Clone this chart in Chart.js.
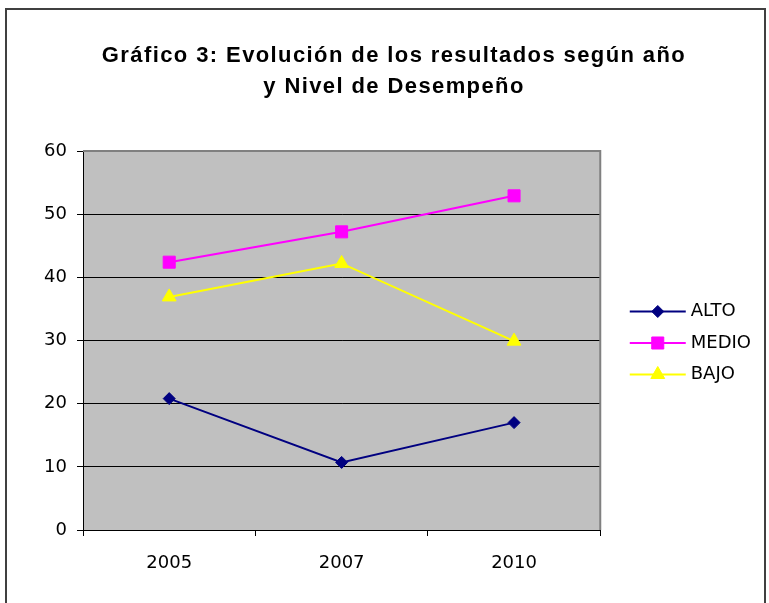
<!DOCTYPE html>
<html>
<head>
<meta charset="utf-8">
<script src="https://cdn.jsdelivr.net/npm/chart.js@4"></script>
<style>
  html, body { margin: 0; padding: 0; background: #fff; }
  #wrap { width: 769px; height: 603px; }
</style>
</head>
<body>
<div id="wrap"><canvas id="chart" width="769" height="603"></canvas></div>
<script>
const years = ['2005', '2007', '2010'];
const alto = [20.8, 10.7, 17.0];
const medio = [42.4, 47.2, 52.9];
const bajo = [36.9, 42.2, 29.9];
const seriesNames = ['ALTO', 'MEDIO', 'BAJO'];
const titleLines = ['Gráfico 3: Evolución de los resultados según año', 'y Nivel de Desempeño'];

// Excel-ish frame, plot background, title and legend line+marker
const excelLook = {
  id: 'excelLook',
  beforeDraw(chart) {
    const {ctx, chartArea: a} = chart;
    ctx.save();
    ctx.fillStyle = '#fff';
    ctx.fillRect(0, 0, chart.width, chart.height);
    ctx.fillStyle = '#c0c0c0';
    ctx.fillRect(a.left, a.top, a.right - a.left, a.bottom - a.top);
    ctx.restore();
  },
  afterDraw(chart) {
    const {ctx, chartArea: a} = chart;
    ctx.save();
    // gray top/right edges of the plot
    ctx.strokeStyle = '#808080';
    ctx.lineWidth = 2;
    ctx.beginPath();
    ctx.moveTo(a.left, a.top);
    ctx.lineTo(a.right, a.top);
    ctx.lineTo(a.right, a.bottom);
    ctx.stroke();
    // outer frame
    ctx.strokeStyle = '#404040';
    ctx.lineWidth = 2;
    ctx.strokeRect(6, 9, 759, 600);
    // title
    ctx.fillStyle = '#000';
    ctx.font = 'bold 22px "Liberation Sans", Arial, sans-serif';
    ctx.textAlign = 'center';
    ctx.textBaseline = 'alphabetic';
    ctx.letterSpacing = '1.4px';
    ctx.fillText(titleLines[0], 394, 62);
    ctx.fillText(titleLines[1], 394, 93);
    ctx.letterSpacing = '0px';
    // legend line + marker
    const boxes = chart.legend.legendHitBoxes || [];
    boxes.forEach((b, i) => {
      const ds = chart.data.datasets[i];
      const y = b.top + b.height / 2;
      const x0 = b.left + 16;
      ctx.strokeStyle = ds.borderColor;
      ctx.lineWidth = ds.borderWidth;
      ctx.beginPath();
      ctx.moveTo(x0, y);
      ctx.lineTo(x0 + 56, y);
      ctx.stroke();
      ctx.fillStyle = ds.pointBackgroundColor;
      ctx.strokeStyle = ds.pointBorderColor;
      ctx.lineWidth = 1;
      Chart.helpers.drawPoint(ctx, {
        pointStyle: ds.pointStyle, radius: ds.pointRadius, borderWidth: 1, rotation: 0
      }, x0 + 28, y);
    });
    ctx.restore();
  }
};

const colors = ['#000080', '#ff00ff', '#ffff00'];
const styles = ['rectRot', 'rect', 'triangle'];
const radii = [6, 8.5, 8];
const values = [alto, medio, bajo];

const datasets = seriesNames.map((name, i) => ({
  label: name,
  data: values[i],
  borderColor: colors[i],
  backgroundColor: colors[i],
  borderWidth: 2,
  pointStyle: styles[i],
  pointRadius: radii[i],
  pointHoverRadius: radii[i],
  pointBackgroundColor: colors[i],
  pointBorderColor: colors[i],
  pointBorderWidth: 1,
  tension: 0
}));

new Chart(document.getElementById('chart'), {
  type: 'line',
  data: { labels: years, datasets: datasets },
  options: {
    responsive: false,
    animation: false,
    layout: { padding: { top: 151, left: 0, right: 8, bottom: 0 } },
    plugins: {
      title: { display: false },
      tooltip: { enabled: false },
      legend: {
        position: 'right',
        fullSize: false,
        align: 'center',
        // empty title only nudges the items down a little
        title: { display: true, text: ' ', padding: 0, font: { size: 4, lineHeight: 1.25 } },
        labels: {
          boxWidth: 68,
          boxHeight: 2,
          padding: 13.5,
          color: '#000',
          font: { family: '"DejaVu Sans", Verdana, sans-serif', size: 18 },
          generateLabels(chart) {
            const items = Chart.defaults.plugins.legend.labels.generateLabels(chart);
            return items.map(it => Object.assign(it, {
              fillStyle: 'rgba(0,0,0,0)', strokeStyle: 'rgba(0,0,0,0)', lineWidth: 0
            }));
          }
        }
      }
    },
    scales: {
      x: {
        offset: true,
        afterFit(s) { s.height = 73; },
        grid: { offset: true, drawOnChartArea: false, color: '#000', tickLength: 6 },
        border: { color: '#000', width: 1 },
        ticks: {
          color: '#000',
          padding: 17,
          font: { family: '"DejaVu Sans", Verdana, sans-serif', size: 18 }
        }
      },
      y: {
        min: 0,
        max: 60,
        afterFit(s) { s.width = 83; },
        grid: { color: '#000', tickLength: 6 },
        border: { color: '#000', width: 1 },
        ticks: {
          stepSize: 10,
          color: '#000',
          padding: 10,
          font: { family: '"DejaVu Sans", Verdana, sans-serif', size: 18 }
        }
      }
    }
  },
  plugins: [excelLook]
});
</script>
</body>
</html>
